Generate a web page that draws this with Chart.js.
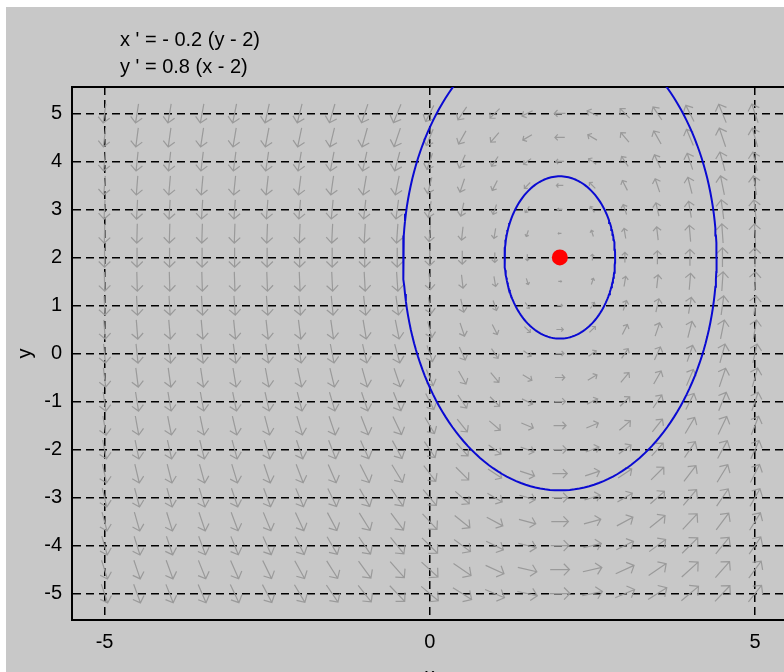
<!DOCTYPE html>
<html lang="en">
<head>
  <meta charset="UTF-8" />
  <title>Phase plane</title>
  <script src="https://cdn.jsdelivr.net/npm/chart.js"></script>
  <style>
    body { margin: 0; background: #fff; overflow: hidden; font-family: "Liberation Sans", Arial, sans-serif; }
    #frame { position: absolute; left: 6px; top: 7px; width: 800px; height: 665px; background: #c8c8c8; overflow: hidden; }
    #plot { position: absolute; left: 0; top: 0; }
    .eq { position: absolute; left: 114px; top: 19px; font-size: 20px; line-height: 27px; color: #000; white-space: pre; }
  </style>
</head>
<body>
  <div id="frame">
    <canvas id="plot" width="790" height="665"></canvas>
    <div class="eq">x ' = - 0.2 (y - 2)<br>y ' = 0.8 (x - 2)</div>
  </div>

  <script>
    // axis ticks
    const xTicks = [-5, 0, 5];
    const yTicks = [-5, -4, -3, -2, -1, 0, 1, 2, 3, 4, 5];

    // where the direction arrows sit
    const gridX = [-5, -4.5, -4, -3.5, -3, -2.5, -2, -1.5, -1, -0.5, 0, 0.5, 1, 1.5, 2, 2.5, 3, 3.5, 4, 4.5, 5];
    const gridY = [-5, -4.5, -4, -3.5, -3, -2.5, -2, -1.5, -1, -0.5, 0, 0.5, 1, 1.5, 2, 2.5, 3, 3.5, 4, 4.5, 5];

    // x' = -0.2 (y - 2), y' = 0.8 (x - 2)
    const coefX = -0.2;
    const coefY = 0.8;
    const center = [{ x: 2, y: 2 }];

    // closed orbits (half widths / half heights)
    const orbitRx = [0.85, 2.41];
    const orbitRy = [1.69, 4.85];

    function field(x, y) {
      return [coefX * (y - center[0].y), coefY * (x - center[0].x)];
    }

    const arrowPoints = [];
    gridX.forEach(gx => gridY.forEach(gy => arrowPoints.push({ x: gx, y: gy })));

    function orbit(rx, ry) {
      const pts = [];
      for (let k = 0; k <= 200; k++) {
        const t = k / 200 * 2 * Math.PI;
        pts.push({ x: center[0].x + rx * Math.cos(t), y: center[0].y + ry * Math.sin(t) });
      }
      return pts;
    }

    const arrowLen = 0.4;   // data units
    const vCap = 2;

    const arrows = {
      id: 'arrows',
      beforeDatasetsDraw(chart) {
        const { ctx, chartArea, scales: { x, y } } = chart;
        ctx.save();
        ctx.beginPath();
        ctx.rect(chartArea.left, chartArea.top, chartArea.width, chartArea.height);
        ctx.clip();
        ctx.strokeStyle = '#9a9a9a';
        ctx.lineWidth = 1.2;
        chart.data.datasets[0].data.forEach(p => {
          const [u, v] = field(p.x, p.y);
          const m = Math.hypot(u, v);
          if (m === 0) return;
          const len = arrowLen * Math.pow(Math.min(m, vCap) / vCap, 0.7);
          const dx = u / m * len / 2, dy = v / m * len / 2;
          const x0 = x.getPixelForValue(p.x - dx), y0 = y.getPixelForValue(p.y - dy);
          const x1 = x.getPixelForValue(p.x + dx), y1 = y.getPixelForValue(p.y + dy);
          const a = Math.atan2(y1 - y0, x1 - x0);
          const h = Math.hypot(x1 - x0, y1 - y0) * 0.42;
          ctx.beginPath();
          ctx.moveTo(x0, y0);
          ctx.lineTo(x1, y1);
          ctx.moveTo(x1 - h * Math.cos(a - 0.8), y1 - h * Math.sin(a - 0.8));
          ctx.lineTo(x1, y1);
          ctx.lineTo(x1 - h * Math.cos(a + 0.8), y1 - h * Math.sin(a + 0.8));
          ctx.stroke();
        });
        ctx.restore();
      }
    };

    const font = { family: '"Liberation Sans", Arial, sans-serif', size: 20 };

    new Chart(document.getElementById('plot'), {
      type: 'scatter',
      data: {
        datasets: [
          { label: 'field', data: arrowPoints, pointRadius: 0 },
          { label: 'orbit 1', data: orbit(orbitRx[0], orbitRy[0]), showLine: true, pointRadius: 0, borderColor: '#0a0ad2', borderWidth: 2, tension: 0 },
          { label: 'orbit 2', data: orbit(orbitRx[1], orbitRy[1]), showLine: true, pointRadius: 0, borderColor: '#0a0ad2', borderWidth: 2, tension: 0 },
          { label: 'equilibrium', data: center, pointRadius: 8, backgroundColor: '#ff0000', borderWidth: 0 }
        ]
      },
      options: {
        responsive: false,
        animation: false,
        layout: { padding: { right: 8.5 } },
        plugins: { legend: { display: false }, tooltip: { enabled: false } },
        scales: {
          x: {
            type: 'linear', position: 'bottom', min: -5.5, max: 5.5,
            afterBuildTicks: s => { s.ticks = xTicks.map(v => ({ value: v })); },
            afterFit: s => { s.height = 52; },
            grid: { color: '#000', lineWidth: 1.5, drawTicks: false },
            border: { display: true, color: '#000', width: 2, dash: [8, 5] },
            ticks: { color: '#000', padding: 10, font: font },
            title: { display: true, text: 'x', color: '#000', font: font, padding: { top: 0, bottom: -16 } }
          },
          x2: {
            type: 'linear', position: 'top', min: -5.5, max: 5.5,
            afterFit: s => { s.height = 80; },
            grid: { display: false, drawTicks: false },
            border: { display: true, color: '#000', width: 2 },
            ticks: { display: false }
          },
          y: {
            type: 'linear', position: 'left', min: -5.55, max: 5.55,
            afterBuildTicks: s => { s.ticks = yTicks.map(v => ({ value: v })); },
            afterFit: s => { s.width = 66; },
            grid: { color: '#000', lineWidth: 1.5, drawTicks: false },
            border: { display: true, color: '#000', width: 2, dash: [8, 5] },
            ticks: { color: '#000', padding: 10, font: font },
            title: { display: true, text: 'y', color: '#000', font: font, padding: { top: 7, bottom: 0 } }
          }
        }
      },
      plugins: [arrows]
    });
  </script>
</body>
</html>
